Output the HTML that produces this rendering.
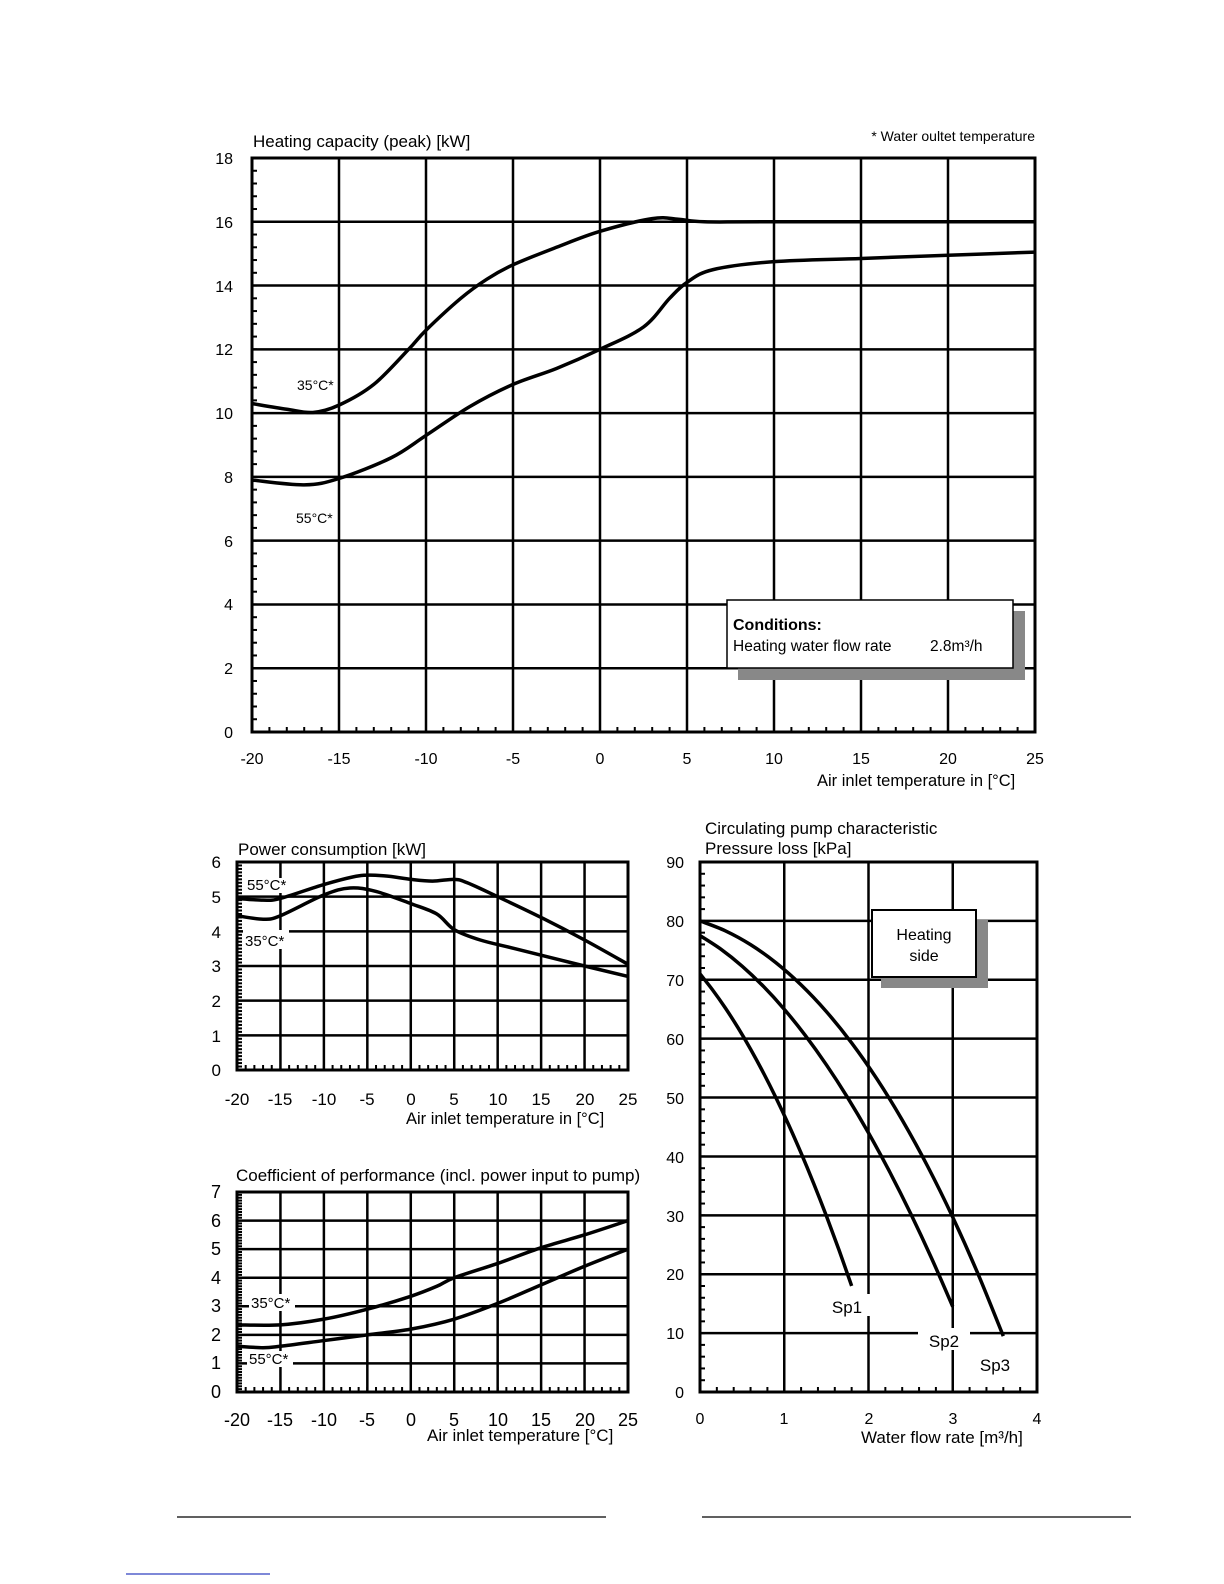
<!DOCTYPE html>
<html><head><meta charset="utf-8"><style>
html,body{margin:0;padding:0;background:#fff;}
svg{display:block;font-family:"Liberation Sans",sans-serif;}
</style></head><body>
<svg id="s" width="1224" height="1584" viewBox="0 0 1224 1584" xmlns="http://www.w3.org/2000/svg">
<g id="g"></g>
<g font-size="16" fill="#000">
<text x="253" y="147" font-size="17">Heating capacity (peak) [kW]</text>
<text x="1035" y="141" font-size="14" text-anchor="end">* Water oultet temperature</text>
<g text-anchor="end">
<text x="233" y="164">18</text><text x="233" y="228">16</text><text x="233" y="292">14</text><text x="233" y="355">12</text><text x="233" y="419">10</text><text x="233" y="483">8</text><text x="233" y="547">6</text><text x="233" y="610">4</text><text x="233" y="674">2</text><text x="233" y="738">0</text>
</g>
<g text-anchor="middle">
<text x="252" y="764">-20</text><text x="339" y="764">-15</text><text x="426" y="764">-10</text><text x="513" y="764">-5</text><text x="600" y="764">0</text><text x="687" y="764">5</text><text x="774" y="764">10</text><text x="861" y="764">15</text><text x="948" y="764">20</text><text x="1035" y="764">25</text>
</g>
<text x="817" y="786" font-size="16.5">Air inlet temperature  in [°C]</text>
<text x="297" y="390" font-size="14">35°C*</text>
<text x="296" y="523" font-size="14">55°C*</text>
</g>
<g font-size="17" fill="#000">
<text x="238" y="855">Power consumption [kW]</text>
<g text-anchor="end">
<text x="221" y="868">6</text><text x="221" y="903">5</text><text x="221" y="938">4</text><text x="221" y="972">3</text><text x="221" y="1007">2</text><text x="221" y="1042">1</text><text x="221" y="1076">0</text>
</g>
<g text-anchor="middle">
<text x="237" y="1105">-20</text><text x="280" y="1105">-15</text><text x="324" y="1105">-10</text><text x="367" y="1105">-5</text><text x="411" y="1105">0</text><text x="454" y="1105">5</text><text x="498" y="1105">10</text><text x="541" y="1105">15</text><text x="585" y="1105">20</text><text x="628" y="1105">25</text>
</g>
<text x="406" y="1124" font-size="16.5">Air inlet temperature  in [°C]</text>
</g>
<g font-size="17" fill="#000">
<text x="236" y="1181">Coefficient of performance (incl. power input to pump)</text>
<g text-anchor="end" font-size="18">
<text x="221" y="1198">7</text><text x="221" y="1227">6</text><text x="221" y="1255">5</text><text x="221" y="1284">4</text><text x="221" y="1312">3</text><text x="221" y="1341">2</text><text x="221" y="1369">1</text><text x="221" y="1398">0</text>
</g>
<g text-anchor="middle" font-size="18">
<text x="237" y="1426">-20</text><text x="280" y="1426">-15</text><text x="324" y="1426">-10</text><text x="367" y="1426">-5</text><text x="411" y="1426">0</text><text x="454" y="1426">5</text><text x="498" y="1426">10</text><text x="541" y="1426">15</text><text x="585" y="1426">20</text><text x="628" y="1426">25</text>
</g>
<text x="427" y="1441">Air inlet temperature [°C]</text>
</g>
<g font-size="17" fill="#000">
<text x="705" y="834">Circulating pump characteristic</text>
<text x="705" y="854">Pressure  loss [kPa]</text>
<g text-anchor="end" font-size="16">
<text x="684" y="868">90</text><text x="684" y="927">80</text><text x="684" y="986">70</text><text x="684" y="1045">60</text><text x="684" y="1104">50</text><text x="684" y="1163">40</text><text x="684" y="1222">30</text><text x="684" y="1280">20</text><text x="684" y="1339">10</text><text x="684" y="1398">0</text>
</g>
<g text-anchor="middle" font-size="16">
<text x="700" y="1424">0</text><text x="784" y="1424">1</text><text x="869" y="1424">2</text><text x="953" y="1424">3</text><text x="1037" y="1424">4</text>
</g>
<text x="861" y="1443">Water flow rate [m³/h]</text>
</g>
<g id="top"></g>
</svg>
<script>
const NS="http://www.w3.org/2000/svg";
const G=document.getElementById('g'), T=document.getElementById('top');
function el(p,tag,a){const e=document.createElementNS(NS,tag);for(const k in a)e.setAttribute(k,a[k]);p.appendChild(e);return e;}
function line(p,x1,y1,x2,y2,w,c){el(p,'line',{x1,y1,x2,y2,stroke:c||'#000','stroke-width':w});}
function smooth(pts){let d='M'+pts[0][0]+','+pts[0][1];for(let i=0;i<pts.length-1;i++){const p0=pts[Math.max(0,i-1)],p1=pts[i],p2=pts[i+1],p3=pts[Math.min(pts.length-1,i+2)];const c1=[p1[0]+(p2[0]-p0[0])/6,p1[1]+(p2[1]-p0[1])/6],c2=[p2[0]-(p3[0]-p1[0])/6,p2[1]-(p3[1]-p1[1])/6];d+=' C'+c1+' '+c2+' '+p2;}return d;}
function chart(c){
 const X=v=>c.x0+(v-c.xmin)/(c.xmax-c.xmin)*(c.x1-c.x0), Y=v=>c.y0-(v-c.ymin)/(c.ymax-c.ymin)*(c.y0-c.y1);
 for(let v=c.xmin;v<=c.xmax+1e-9;v+=c.xs)line(G,X(v),c.y1,X(v),c.y0,c.gw);
 for(let v=c.ymin;v<=c.ymax+1e-9;v+=c.ys)line(G,c.x0,Y(v),c.x1,Y(v),c.gw);
 for(let v=c.xmin;v<=c.xmax+1e-9;v+=c.xt)line(G,X(v),c.y0,X(v),c.y0-5,2);
 for(let v=c.ymin;v<=c.ymax+1e-9;v+=c.yt)line(G,c.x0,Y(v),c.x0+5,Y(v),2);
 el(G,'rect',{x:c.x0,y:c.y1,width:c.x1-c.x0,height:c.y0-c.y1,fill:'none',stroke:'#000','stroke-width':3});
 c.series.forEach(s=>el(G,'path',{d:smooth(s.map(p=>[X(p[0]),Y(p[1])])),fill:'none',stroke:'#000','stroke-width':c.cw,'stroke-linejoin':'round'}));
}
chart({x0:252,x1:1035,y0:732,y1:158,xmin:-20,xmax:25,ymin:0,ymax:18,xs:5,ys:2,xt:1,yt:0.4,gw:2.5,cw:3.5,series:[
 [[-20,10.3],[-18,10.12],[-16.5,10.02],[-15,10.25],[-13,10.9],[-11,12.0],[-10,12.6],[-8,13.6],[-6.5,14.2],[-5,14.65],[-2.5,15.2],[0,15.7],[3,16.1],[4.5,16.08],[6,16.0],[10,16.0],[25,16.0]],
 [[-20,7.9],[-17,7.75],[-15,7.95],[-12,8.6],[-10,9.3],[-7.5,10.2],[-5,10.9],[-2.5,11.4],[0,12.0],[2.5,12.7],[4,13.6],[5,14.1],[6.5,14.5],[10,14.75],[15,14.85],[20,14.95],[25,15.05]]]});
chart({x0:237,x1:628,y0:1070,y1:862,xmin:-20,xmax:25,ymin:0,ymax:6,xs:5,ys:1,xt:1,yt:0.1,gw:2.5,cw:3.5,series:[
 [[-20,4.95],[-17,4.9],[-15,4.95],[-10,5.35],[-6,5.6],[-3,5.6],[0,5.5],[2.5,5.45],[5,5.5],[6.5,5.4],[10,5.0],[15,4.4],[20,3.75],[25,3.05]],
 [[-20,4.45],[-17,4.35],[-15,4.45],[-10,5.05],[-7,5.25],[-4,5.15],[0,4.8],[3,4.5],[5,4.05],[8,3.75],[12,3.5],[20,3.0],[25,2.7]]]});
chart({x0:237,x1:628,y0:1392,y1:1192,xmin:-20,xmax:25,ymin:0,ymax:7,xs:5,ys:1,xt:1,yt:0.1,gw:2.5,cw:3.5,series:[
 [[-20,2.35],[-15,2.35],[-10,2.55],[-5,2.9],[0,3.35],[3,3.7],[5,4.0],[10,4.5],[15,5.05],[20,5.5],[25,6.0]],
 [[-20,1.6],[-17,1.55],[-15,1.6],[-10,1.8],[-5,2.0],[0,2.2],[5,2.55],[10,3.1],[15,3.75],[20,4.4],[25,5.0]]]});
function pump(v0,a,b,xe,c3){const p=[];const n=12;for(let i=0;i<=n;i++){const x=xe*i/n;p.push([x,v0-a*x-b*x*x-(c3||0)*x*x*x]);}return p;}
chart({x0:700,x1:1037,y0:1392,y1:862,xmin:0,xmax:4,ymin:0,ymax:90,xs:1,ys:10,xt:0.2,yt:2,gw:2.5,cw:3.5,series:[
 pump(71,17.2,6.8,1.8),
 pump(77.5,8.25,4.25,3),
 pump(80,4.5,3.6,3.6,0.164)]});
function lab(x,y,w,h,t,fs,anchor){el(T,'rect',{x,y,width:w,height:h,fill:'#fff'});const e=el(T,'text',{x:anchor==='middle'?x+w/2:x+2,y:y+h-3,'font-size':fs,'text-anchor':anchor||'start'});e.textContent=t;}
lab(245,878,46,15,'55°C*',15);lab(243,930,46,19,'35°C*',15);
lab(249,1294,46,17,'35°C*',15);lab(247,1351,46,16,'55°C*',15);
lab(824,1294,46,22,'Sp1',17,'middle');lab(918,1328,52,22,'Sp2',17,'middle');lab(970,1352,50,22,'Sp3',17,'middle');
el(T,'rect',{x:738,y:611,width:287,height:69,fill:'#888'});
el(T,'rect',{x:727,y:600,width:286,height:68,fill:'#fff',stroke:'#000','stroke-width':1.5});
let t=el(T,'text',{x:733,y:630,'font-size':16,'font-weight':'bold'});t.textContent='Conditions:';
t=el(T,'text',{x:733,y:651,'font-size':15.5});t.textContent='Heating water flow rate';
t=el(T,'text',{x:930,y:651,'font-size':15.5});t.textContent='2.8m³/h';
el(T,'rect',{x:881,y:920,width:107,height:68,fill:'#888'});
el(T,'rect',{x:872,y:910,width:104,height:67,fill:'#fff',stroke:'#000','stroke-width':2});
t=el(T,'text',{x:924,y:940,'font-size':16,'text-anchor':'middle'});t.textContent='Heating';
t=el(T,'text',{x:924,y:961,'font-size':16,'text-anchor':'middle'});t.textContent='side';
line(T,177,1517,606,1517,1.2);line(T,702,1517,1131,1517,1.2);line(T,126,1574,270,1574,1.2,'#3040c0');
</script>
</body></html>
